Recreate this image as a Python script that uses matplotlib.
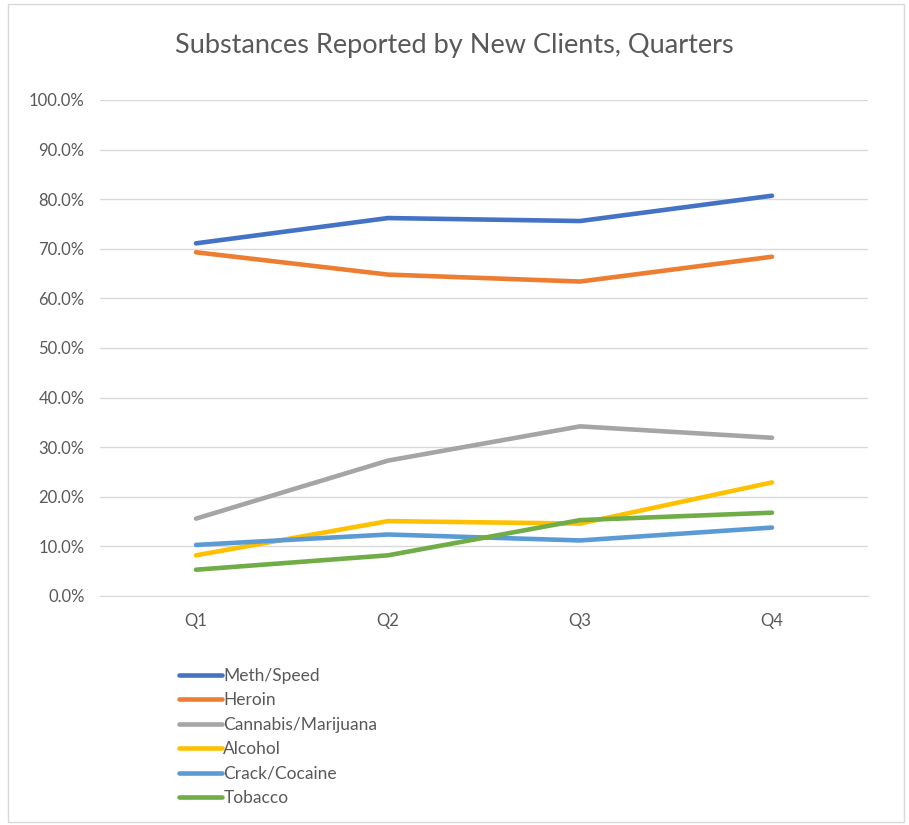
import matplotlib.pyplot as plt
from matplotlib.patches import Rectangle
from matplotlib.ticker import PercentFormatter

plt.rcParams['font.family'] = ['Lato', 'DejaVu Sans']

quarters = ['Q1', 'Q2', 'Q3', 'Q4']
meth = [71.1, 76.2, 75.6, 80.7]
heroin = [69.3, 64.8, 63.4, 68.4]
cannabis = [15.6, 27.3, 34.2, 31.9]
alcohol = [8.2, 15.1, 14.6, 22.9]
crack = [10.3, 12.4, 11.2, 13.8]
tobacco = [5.3, 8.2, 15.3, 16.8]

series = [
    ('Meth/Speed', meth, '#4472C4'),
    ('Heroin', heroin, '#ED7D31'),
    ('Cannabis/Marijuana', cannabis, '#A5A5A5'),
    ('Alcohol', alcohol, '#FFC000'),
    ('Crack/Cocaine', crack, '#5B9BD5'),
    ('Tobacco', tobacco, '#70AD47'),
]

fig = plt.figure(figsize=(9.09, 8.25), dpi=100)
ax = fig.add_axes([100 / 909, 1 - 596 / 825, 768 / 909, 496 / 825])

x = range(len(quarters))
for name, vals, color in series:
    ax.plot(x, vals, color=color, lw=3.3, label=name, solid_capstyle='round')

ax.set_xlim(-0.5, 3.5)
ax.set_ylim(0, 100)
ax.set_yticks(range(0, 101, 10))
ax.yaxis.set_major_formatter(PercentFormatter(decimals=1))
ax.set_xticks(list(x))
ax.set_xticklabels(quarters)
ax.grid(axis='y', color='#D9D9D9', lw=1)
ax.set_axisbelow(True)
for s in ['top', 'right', 'left']:
    ax.spines[s].set_visible(False)
ax.spines['bottom'].set_color('#D9D9D9')
ax.tick_params(length=0, colors='#595959', labelsize=12)
ax.tick_params(axis='y', pad=11)
ax.tick_params(axis='x', pad=12)

fig.text(0.5, 1 - 45 / 825, 'Substances Reported by New Clients, Quarters',
         ha='center', va='center', fontsize=19.5, color='#595959')

fig.legend(loc='upper left', bbox_to_anchor=(163 / 909, 1 - 652 / 825),
           frameon=False, fontsize=12.5, handlelength=2.5, handletextpad=0.08,
           labelspacing=0.49, labelcolor='#595959')

fig.patches.append(Rectangle((8 / 909, 3 / 825), 896 / 909, 818 / 825,
                             transform=fig.transFigure, fill=False,
                             edgecolor='#D9D9D9', lw=1))

fig.savefig('out.png', dpi=100)
